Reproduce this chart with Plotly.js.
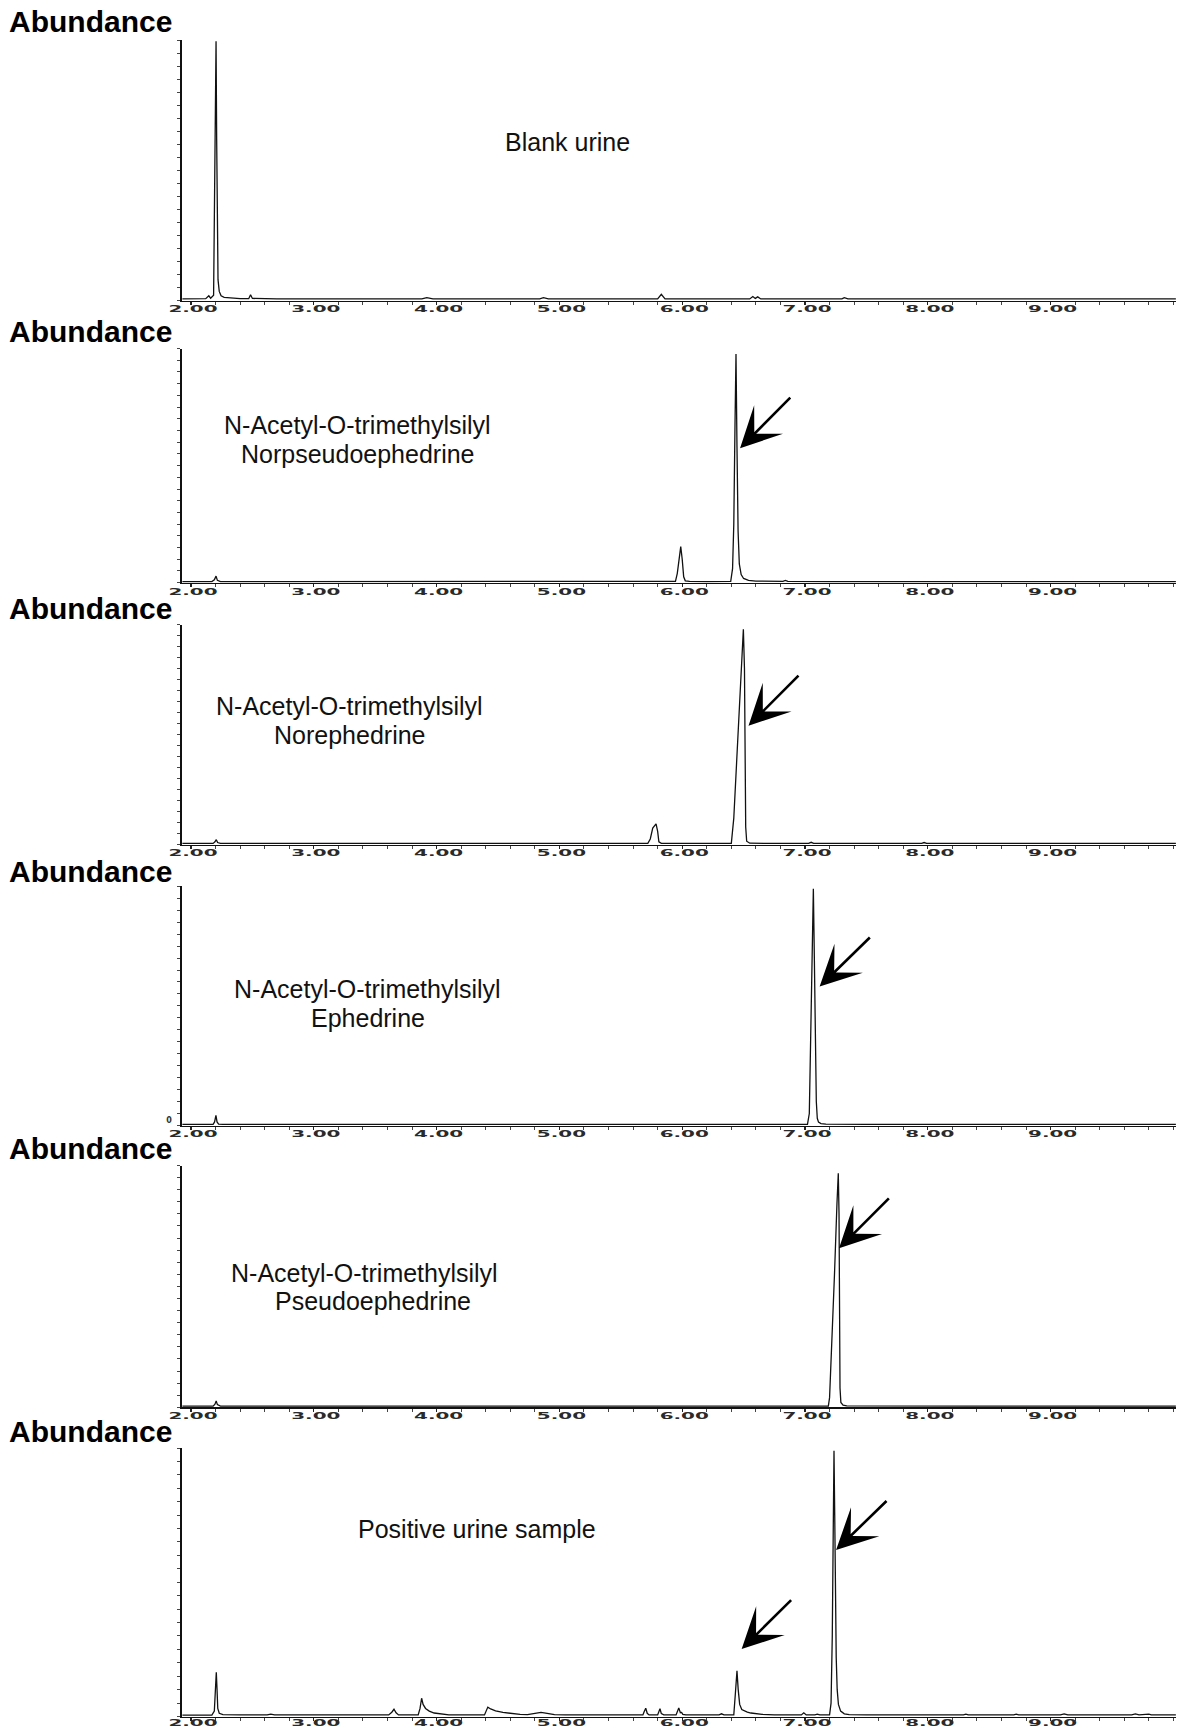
<!DOCTYPE html>
<html>
<head>
<meta charset="utf-8">
<script src="https://cdn.plot.ly/plotly-3.0.1.min.js"></script>
<style>
  html, body { margin: 0; padding: 0; background: #ffffff; }
  #chart { width: 1181px; height: 1731px; }
</style>
</head>
<body>
<div id="chart"></div>
<script>
// Retention-time axis ticks (minutes)
const tickValues = [2, 3, 4, 5, 6, 7, 8, 9];
const tickLabels = ['2.00', '3.00', '4.00', '5.00', '6.00', '7.00', '8.00', '9.00'];

// Blank urine (relative abundance, %)
const timeBlank = [1.93, 2.05, 2.12, 2.145, 2.16, 2.184, 2.19, 2.194, 2.204, 2.209, 2.214, 2.22, 2.23, 2.245,
  2.27, 2.32, 2.40, 2.47, 2.485, 2.50, 2.70, 3.00, 3.40, 3.88, 3.92, 3.97, 4.40, 4.84, 4.87, 4.91,
  5.40, 5.80, 5.83, 5.86, 6.20, 6.55, 6.575, 6.595, 6.615, 6.64, 7.05, 7.30, 7.32, 7.35, 8.00, 8.80, 9.50, 10.02];
const absBlank = [0.6, 0.6, 0.7, 1.8, 0.9, 2.0, 30, 40, 99.5, 62, 22, 8, 3.5, 1.8,
  1.2, 0.9, 0.7, 0.7, 2.2, 0.8, 0.6, 0.6, 0.6, 0.6, 1.1, 0.6, 0.6, 0.6, 1.1, 0.6,
  0.6, 0.6, 2.4, 0.6, 0.6, 0.6, 1.5, 0.8, 1.4, 0.6, 0.6, 0.6, 1.1, 0.6, 0.6, 0.6, 0.6, 0.6];

// N-Acetyl-O-trimethylsilyl norpseudoephedrine standard
const timeNorpseudo = [1.93, 2.17, 2.19, 2.204, 2.215, 2.24, 2.80, 3.50, 4.20, 4.90, 5.50, 5.945, 5.96, 5.975,
  5.988, 6.00, 6.012, 6.025, 6.06, 6.20, 6.395, 6.41, 6.42, 6.43, 6.438, 6.446, 6.455, 6.465, 6.48,
  6.50, 6.54, 6.60, 6.70, 6.82, 6.84, 6.86, 7.20, 7.90, 8.60, 9.30, 10.02];
const absNorpseudo = [0.5, 0.5, 1.2, 2.8, 1.0, 0.5, 0.5, 0.5, 0.5, 0.5, 0.5, 0.6, 4, 11,
  15.4, 10, 2.5, 0.8, 0.6, 0.5, 0.6, 6, 25, 68, 97.7, 58, 22, 8, 3.5,
  1.8, 1.0, 0.7, 0.6, 0.6, 1.0, 0.6, 0.5, 0.5, 0.5, 0.5, 0.5];

// N-Acetyl-O-trimethylsilyl norephedrine standard
const timeNorephedrine = [1.93, 2.18, 2.195, 2.206, 2.217, 2.24, 3.00, 3.80, 4.60, 5.30, 5.72, 5.74, 5.76,
  5.787, 5.80, 5.81, 5.83, 6.10, 6.40, 6.42, 6.44, 6.46, 6.48, 6.498, 6.507, 6.512, 6.517, 6.525,
  6.55, 6.75, 7.03, 7.05, 7.07, 7.60, 7.95, 7.97, 7.99, 8.60, 9.30, 10.02];
const absNorephedrine = [0.5, 0.5, 1.2, 2.2, 0.9, 0.5, 0.5, 0.5, 0.5, 0.5, 0.5, 2.5, 7.5,
  9.4, 6, 1.2, 0.5, 0.5, 0.5, 12, 33, 56, 80, 97.9, 80, 40, 8, 1.5,
  0.6, 0.5, 0.5, 1.0, 0.5, 0.5, 0.5, 0.9, 0.5, 0.5, 0.5, 0.5];

// N-Acetyl-O-trimethylsilyl ephedrine standard
const timeEphedrine = [1.93, 2.18, 2.192, 2.203, 2.212, 2.225, 2.26, 3.00, 3.80, 4.60, 5.40, 6.20, 6.80,
  7.02, 7.035, 7.045, 7.05, 7.058, 7.068, 7.076, 7.084, 7.092, 7.10, 7.11, 7.13, 7.17, 7.50, 8.20, 9.00, 10.02];
const absEphedrine = [0.5, 0.5, 1.5, 4.2, 1.5, 0.6, 0.5, 0.5, 0.5, 0.5, 0.5, 0.5, 0.5,
  0.5, 5, 35, 45, 80, 99, 70, 30, 10, 3, 1.4, 0.8, 0.6, 0.5, 0.5, 0.5, 0.5];

// N-Acetyl-O-trimethylsilyl pseudoephedrine standard
const timePseudo = [1.93, 2.18, 2.195, 2.205, 2.215, 2.24, 3.00, 3.80, 4.60, 5.40, 6.20, 6.90, 7.19, 7.20,
  7.22, 7.24, 7.26, 7.271, 7.277, 7.281, 7.285, 7.292, 7.31, 7.34, 7.60, 8.30, 9.10, 10.02];
const absPseudo = [0.5, 0.5, 1.3, 2.6, 1.1, 0.5, 0.5, 0.5, 0.5, 0.5, 0.5, 0.5, 0.5, 4,
  28, 55, 84, 96.8, 80, 40, 8, 2.0, 0.9, 0.6, 0.5, 0.5, 0.5, 0.5];

// Positive urine sample
const timePositive = [1.93, 2.17, 2.19, 2.198, 2.206, 2.212, 2.218, 2.23, 2.26, 2.40, 2.62, 2.65, 2.68, 3.00,
  3.40, 3.61, 3.635, 3.653, 3.67, 3.69, 3.85, 3.865, 3.878, 3.89, 3.91, 3.94, 3.98, 4.03, 4.10,
  4.39, 4.405, 4.417, 4.44, 4.48, 4.54, 4.60, 4.68, 4.74, 4.80, 4.85, 4.90, 4.96, 5.05, 5.40,
  5.68, 5.69, 5.703, 5.715, 5.73, 5.80, 5.81, 5.819, 5.83, 5.85, 5.95, 5.962, 5.972, 5.985, 5.995,
  6.005, 6.03, 6.30, 6.32, 6.34, 6.42, 6.432, 6.446, 6.456, 6.468, 6.485, 6.51, 6.53, 6.56, 6.60,
  6.65, 6.75, 6.97, 6.99, 7.01, 7.08, 7.10, 7.12, 7.20, 7.212, 7.222, 7.230, 7.236, 7.242, 7.248,
  7.254, 7.262, 7.272, 7.29, 7.32, 7.36, 7.50, 7.95, 8.29, 8.31, 8.33, 8.70, 8.72, 8.74, 9.08,
  9.11, 9.14, 9.66, 9.69, 9.72, 9.80, 9.82, 10.02];
const absPositive = [0.5, 0.5, 2, 10, 16.5, 10, 3, 1.2, 0.7, 0.6, 0.6, 0.9, 0.6, 0.6,
  0.6, 0.6, 1.6, 2.7, 1.4, 0.6, 0.6, 3, 6.8, 4.5, 3, 2, 1.3, 0.9, 0.6,
  0.6, 2, 3.5, 2.8, 2.1, 1.5, 1.1, 0.8, 0.7, 1.1, 1.5, 1.2, 0.7, 0.6, 0.6,
  0.6, 1.8, 3.1, 1.2, 0.6, 0.6, 1.8, 2.9, 1.1, 0.6, 0.6, 2, 3.2, 1.4, 1.5,
  0.8, 0.6, 0.6, 1.0, 0.6, 0.6, 8, 17, 10, 4.5, 2.6, 1.9, 1.6, 1.3, 1.0,
  0.8, 0.6, 0.6, 1.4, 0.6, 0.6, 0.9, 0.6, 0.6, 5, 30, 70, 99, 75, 45,
  22, 10, 4.5, 2, 1, 0.7, 0.6, 0.6, 0.6, 0.9, 0.6, 0.6, 0.9, 0.6, 0.6,
  1.0, 0.6, 0.6, 1.0, 0.6, 0.9, 0.6, 0.6];

const W = 1181, H = 1731;
const px = v => v / W;          // page pixel -> paper x
const py = v => 1 - v / H;      // page pixel -> paper y

// Each chromatogram: its series, and the top / baseline rows of its frame on the page
const panels = [
  { t: timeBlank,        a: absBlank,        top: 40,     base: 300.5 },
  { t: timeNorpseudo,    a: absNorpseudo,    top: 348.5,  base: 582.7 },
  { t: timeNorephedrine, a: absNorephedrine, top: 624.7,  base: 844.5 },
  { t: timeEphedrine,    a: absEphedrine,    top: 886.3,  base: 1125.5 },
  { t: timePseudo,       a: absPseudo,       top: 1165.5, base: 1407.3 },
  { t: timePositive,     a: absPositive,     top: 1448,   base: 1716.5 }
];
const abundanceRows = [21, 331, 609, 871, 1148, 1431.5];

const traces = [];
const layout = {
  width: W, height: H,
  margin: { l: 0, r: 0, t: 0, b: 0, pad: 0 },
  paper_bgcolor: '#ffffff', plot_bgcolor: '#ffffff',
  showlegend: false,
  font: { family: 'Liberation Sans, Arial, sans-serif', color: '#111' },
  annotations: []
};

const yTickVals = [];
for (let v = 0; v <= 100; v += 5) yTickVals.push(v);

panels.forEach((p, i) => {
  const s = i === 0 ? '' : String(i + 1);
  const last = i === panels.length - 1;
  traces.push({
    x: p.t, y: p.a,
    xaxis: 'x' + s, yaxis: 'y' + s,
    type: 'scatter', mode: 'lines',
    line: { color: '#111', width: 1.3 },
    hoverinfo: 'skip'
  });
  layout['xaxis' + s] = {
    domain: [px(182), px(1176)],
    anchor: 'y' + s,
    range: [1.9267, 10.021],
    tickmode: 'array', tickvals: tickValues, ticktext: tickLabels,
    ticks: 'outside', ticklen: 3, tickwidth: 1.2, tickcolor: '#222',
    ticklabelstandoff: last ? -6 : -4, ticklabelshift: 2,
    minor: { tickmode: 'linear', tick0: 2, dtick: 0.2, ticks: 'outside', ticklen: 3, tickwidth: 1, tickcolor: '#444' },
    tickfont: { family: 'DejaVu Sans', size: 9.5, color: '#2a2a2a', weight: 'bold' },
    showline: true, linecolor: '#111', linewidth: 1.6,
    showgrid: false, zeroline: false, fixedrange: true
  };
  const showZero = i === 3;
  layout['yaxis' + s] = {
    domain: [py(p.base), py(p.top)],
    anchor: 'x' + s,
    range: [0, 100],
    tickmode: 'array', tickvals: yTickVals,
    ticktext: yTickVals.map(v => (showZero && v === 0) ? '0' : ''),
    showticklabels: showZero,
    ticklabelstandoff: 4, ticklabelshift: -5,
    tickfont: { family: 'DejaVu Sans', size: 8, color: '#333', weight: 'bold' },
    ticks: 'outside', ticklen: 3, tickwidth: 1, tickcolor: '#444',
    showline: true, linecolor: '#111', linewidth: 1.6,
    showgrid: false, zeroline: false, fixedrange: true
  };
  layout.annotations.push({
    xref: 'paper', yref: 'paper', x: px(7), y: py(abundanceRows[i]),
    xanchor: 'left', yanchor: 'middle', showarrow: false,
    text: '<b>Abundance</b>',
    font: { family: 'Liberation Sans, Arial, sans-serif', size: 30, color: '#000' }
  });
});

// Compound names inside each frame
const nameFont = { family: 'Liberation Sans, Arial, sans-serif', size: 25, color: '#111' };
const names = [
  ['Blank urine', 567.3, 142.4],
  ['N-Acetyl-O-trimethylsilyl', 357.6, 425],
  ['Norpseudoephedrine', 357.6, 453.6],
  ['N-Acetyl-O-trimethylsilyl', 349.9, 706.4],
  ['Norephedrine', 349.9, 735],
  ['N-Acetyl-O-trimethylsilyl', 367.5, 988.9],
  ['Ephedrine', 367.5, 1017.6],
  ['N-Acetyl-O-trimethylsilyl', 364.2, 1272.6],
  ['Pseudoephedrine', 373, 1301.3],
  ['Positive urine sample', 476.8, 1528.6]
];
names.forEach(([text, x, y]) => {
  layout.annotations.push({
    xref: 'paper', yref: 'paper', x: px(x), y: py(y),
    xanchor: 'center', yanchor: 'middle', showarrow: false,
    text: text, font: nameFont
  });
});

// Arrows pointing at the identified peaks (tip and tail in each frame's own axes)
const arrows = [
  ['2', 6.471, 57.4, 6.892, 79.7],
  ['3', 6.540, 54.0, 6.959, 77.5],
  ['4', 7.119, 58.1, 7.540, 79.2],
  ['5', 7.277, 65.8, 7.695, 87.0],
  ['6', 6.484, 25.1, 6.899, 43.9],
  ['6', 7.253, 62.0, 7.676, 80.8]
];
arrows.forEach(([s, x, y, ax, ay]) => {
  layout.annotations.push({
    xref: 'x' + s, yref: 'y' + s, axref: 'x' + s, ayref: 'y' + s,
    x: x, y: y, ax: ax, ay: ay, text: '',
    showarrow: true, arrowhead: 3, arrowsize: 2.6, arrowwidth: 2.6,
    arrowcolor: '#000', standoff: 0
  });
});

Plotly.newPlot('chart', traces, layout, { staticPlot: true, displayModeBar: false }).then(gd => {
  // The instrument prints its retention-time labels in a wide, squat face:
  // stretch each x tick label horizontally about its own centre.
  gd.querySelectorAll('.xaxislayer-above text').forEach(el => {
    const tr = el.getAttribute('transform') || '';
    el.setAttribute('transform', (tr + ' scale(2.1,1)').trim());
  });
});
</script>
</body>
</html>
